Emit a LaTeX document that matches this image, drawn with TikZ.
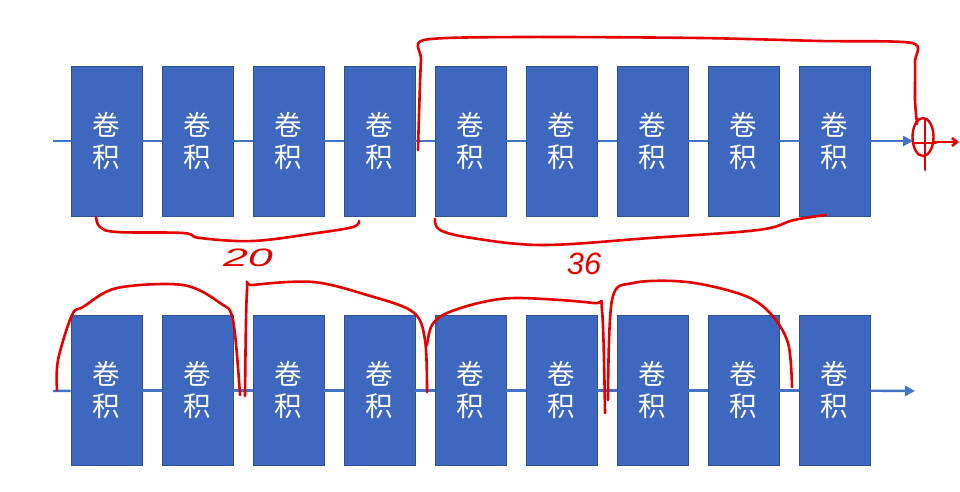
\documentclass[tikz,border=0pt]{standalone}
\usepackage{fontspec}
\newfontfamily\cjk{Noto Sans CJK SC}
\setmainfont{Liberation Sans}
\usetikzlibrary{arrows.meta,shapes.geometric}
\definecolor{boxfill}{RGB}{62,103,191}
\definecolor{boxline}{RGB}{47,82,143}
\definecolor{flowblue}{RGB}{68,114,196}
\definecolor{ink}{RGB}{228,0,0}
\begin{document}
\begin{tikzpicture}[x=1pt,y=-1pt,
  conv/.style={draw=boxline,line width=0.8pt,fill=boxfill,minimum width=71pt,minimum height=150pt,
    inner sep=0pt,align=center,text=white,font=\cjk\fontsize{27.5}{32}\selectfont},
  flowline/.style={draw=flowblue,line width=2.4pt},
  flowarrow/.style={flowline,-{Triangle[length=10pt,width=10pt]}},
  pen/.style={draw=ink,line width=2.6pt,line cap=round,line join=round},
  penlabel/.style={text=ink,inner sep=0pt,font=\fontsize{28}{28}\selectfont\itshape}]
\useasboundingbox (0,0) rectangle (960,492);
\fill[white] (0,0) rectangle (960,492);
% ---------- top row ----------
\coordinate (ts) at (53,141);
\coordinate (te) at (913,141);
\foreach \i in {1,...,9}
  \node[conv] (t\i) at ({106.5+91*(\i-1)},141) {卷\\积};
\draw[flowline] (ts) -- (t1);
\foreach \a/\b in {1/2,2/3,3/4,4/5,5/6,6/7,7/8,8/9}
  \draw[flowline] (t\a) -- (t\b);
\draw[flowarrow] (t9) -- (te);
% ---------- bottom row ----------
\coordinate (bs) at (53,391);
\coordinate (be) at (915,391);
\foreach \i in {1,...,9}
  \node[conv] (b\i) at ({106.5+91*(\i-1)},390.5) {卷\\积};
\draw[flowline] (bs) -- (b1);
\foreach \a/\b in {1/2,2/3,3/4,4/5,5/6,6/7,7/8,8/9}
  \draw[flowline] (b\a) -- (b\b);
\draw[flowarrow] (b9) -- (be);
% ---------- red annotations, top ----------
\node[draw=ink,line width=2.4pt,ellipse,minimum width=21pt,minimum height=38pt,inner sep=0pt] (plus) at (923,137) {};
\draw[pen] (925,120) -- (925,170);
\draw[pen] (914,143) -- (936,143);
\coordinate (pout) at (959,142);
\draw[pen,-{Straight Barb[length=5pt,width=8pt]}] (plus.east |- 0,142) -- (pout);
\draw[pen] plot[smooth,tension=0.45] coordinates {(418,150) (419,115) (421,60) (424,40) (520,37) (700,38) (820,41) (912,43) (915,62) (915,100) (917,124)};
\draw[pen] plot[smooth,tension=0.6] coordinates {(96,217) (100,227) (117,232) (183,233) (200,238) (253,241) (317,233) (353,227) (359,221)};
\draw[pen] plot[smooth,tension=0.6] coordinates {(435,219) (440,230) (472,238) (543,245) (650,238) (758,230) (794,220) (826,215)};
\node[penlabel] (l20) at (248,258) {\scalebox{1.6}[0.9]{20}};
\node[penlabel] (l36) at (584,264) {\scalebox{1.1}[1.1]{36}};
% ---------- red annotations, bottom ----------
\draw[pen] plot[smooth,tension=0.55] coordinates {(57,390) (58,360) (72,315) (83,307) (117,288) (183,285) (220,303) (233,320) (240,395)};
\draw[pen] plot[smooth,tension=0.55] coordinates {(245,396) (247,290) (253,285) (313,282) (367,295) (413,312) (425,340) (427,392)};
\draw[pen] plot[smooth,tension=0.55] coordinates {(427,345) (432,325) (447,313) (483,302) (520,298) (593,303) (602,310) (605,413)};
\draw[pen] plot[smooth,tension=0.55] coordinates {(608,400) (612,300) (633,283) (687,282) (743,295) (770,313) (788,343) (792,387)};
\end{tikzpicture}
\end{document}
